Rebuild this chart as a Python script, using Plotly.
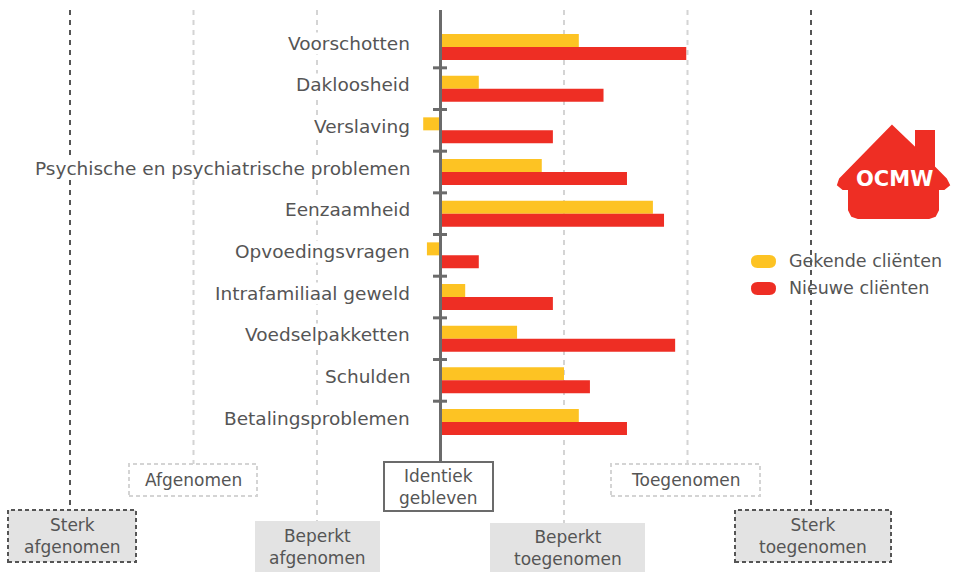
import plotly.graph_objects as go

# --- data -------------------------------------------------------------
categories = [
    "Voorschotten",
    "Dakloosheid",
    "Verslaving",
    "Psychische en psychiatrische problemen",
    "Eenzaamheid",
    "Opvoedingsvragen",
    "Intrafamiliaal geweld",
    "Voedselpakketten",
    "Schulden",
    "Betalingsproblemen",
]
gekende = [1.12, 0.31, -0.14, 0.82, 1.72, -0.11, 0.20, 0.62, 1.00, 1.12]
nieuwe = [1.99, 1.32, 0.91, 1.51, 1.81, 0.31, 0.91, 1.90, 1.21, 1.51]

series_names = ["Gekende cliënten", "Nieuwe cliënten"]
scale_levels = [-3, -2, -1, 0, 1, 2, 3]
scale_labels = [
    "Sterk<br>afgenomen",
    "Afgenomen",
    "Beperkt<br>afgenomen",
    "Identiek<br>gebleven",
    "Beperkt<br>toegenomen",
    "Toegenomen",
    "Sterk<br>toegenomen",
]

# --- styling ------------------------------------------------------------
W, H = 957, 572
YELLOW = "#FDC323"
RED = "#EE2E24"
TXT = "#555555"
AXIS = "#6b6b6b"
DARK_DASH = "#555555"
LIGHT_DASH = "#d4d4d4"
BOX_GRAY = "#e3e3e3"
FONT = "DejaVu Sans"

ZERO_PX = 440.5      # pixel column of the zero line
UNIT_PX = 123.5      # pixels per scale step
ROW0_PX = 47.0       # pixel row of the first category centre
ROW_PX = 41.67       # pixels between category centres


def px_x(px):
    return (px - ZERO_PX) / UNIT_PX


def py(px):
    return 1 - px / H


fig = go.Figure()
fig.add_trace(go.Bar(y=categories, x=gekende, orientation="h", name=series_names[0],
                     marker=dict(color=YELLOW, line=dict(width=0)), showlegend=False))
fig.add_trace(go.Bar(y=categories, x=nieuwe, orientation="h", name=series_names[1],
                     marker=dict(color=RED, line=dict(width=0)), showlegend=False))

shapes = []
annotations = []

# vertical reference lines per level, each ending on top of its label box
level_style = {
    -3: dict(col=DARK_DASH, bottom=510, box=(8, 136, 510, 562), fill=BOX_GRAY, bcol=DARK_DASH, bdash="4px,3px"),
    -2: dict(col=LIGHT_DASH, bottom=464, box=(129, 257, 464, 496), fill="white", bcol=LIGHT_DASH, bdash="4px,3px"),
    -1: dict(col=LIGHT_DASH, bottom=521, box=(255, 380, 521, 572), fill=BOX_GRAY, bcol=None, bdash=None),
    0: dict(col=AXIS, bottom=462, box=(384, 493, 462, 511), fill="white", bcol=AXIS, bdash="solid"),
    1: dict(col=LIGHT_DASH, bottom=523, box=(490, 645, 523, 572), fill=BOX_GRAY, bcol=None, bdash=None),
    2: dict(col=LIGHT_DASH, bottom=464, box=(611, 760, 464, 496), fill="white", bcol=LIGHT_DASH, bdash="4px,3px"),
    3: dict(col=DARK_DASH, bottom=510, box=(735, 891, 510, 562), fill=BOX_GRAY, bcol=DARK_DASH, bdash="4px,3px"),
}

for lvl, lab in zip(scale_levels, scale_labels):
    st = level_style[lvl]
    if lvl == 0:
        shapes.append(dict(type="line", xref="x", yref="paper", x0=0, x1=0,
                           y0=py(10), y1=py(st["bottom"]),
                           line=dict(color=AXIS, width=3), layer="above"))
    else:
        shapes.append(dict(type="line", xref="x", yref="paper", x0=lvl, x1=lvl,
                           y0=py(10), y1=py(st["bottom"]),
                           line=dict(color=st["col"], width=2, dash="5px,5px"), layer="below"))
    bx0, bx1, by0, by1 = st["box"]
    line = dict(width=0) if st["bcol"] is None else dict(color=st["bcol"], width=2, dash=st["bdash"])
    shapes.append(dict(type="rect", xref="paper", yref="paper",
                       x0=bx0 / W, x1=bx1 / W, y0=py(by1), y1=py(by0),
                       fillcolor=st["fill"], line=line, layer="above"))
    annotations.append(dict(xref="paper", yref="paper", x=(bx0 + bx1) / 2 / W,
                            y=py((by0 + by1) / 2), text=lab, showarrow=False,
                            xanchor="center", yanchor="middle",
                            font=dict(family=FONT, size=17, color=TXT)))

# small ticks on the zero line between categories
for i in range(len(categories) - 1):
    shapes.append(dict(type="line", xref="x", yref="y", x0=px_x(433), x1=px_x(447),
                       y0=i + 0.5, y1=i + 0.5, line=dict(color=AXIS, width=3), layer="above"))

# category labels, right aligned left of the zero line
for c in categories:
    annotations.append(dict(xref="x", yref="y", x=px_x(411), y=c, text=c,
                            showarrow=False, xanchor="right", yanchor="middle", yshift=4,
                            bgcolor="white", borderpad=0,
                            font=dict(family=FONT, size=18.5, color=TXT)))

# legend with pill-shaped keys
for name, col, cy in [(series_names[0], YELLOW, 261.5), (series_names[1], RED, 288.5)]:
    x0, x1, h = 751, 776, 13
    r = h / 2
    path = (f"M {(x0 + r) / W},{py(cy - r)} L {(x1 - r) / W},{py(cy - r)} "
            f"Q {x1 / W},{py(cy - r)} {x1 / W},{py(cy)} "
            f"Q {x1 / W},{py(cy + r)} {(x1 - r) / W},{py(cy + r)} "
            f"L {(x0 + r) / W},{py(cy + r)} "
            f"Q {x0 / W},{py(cy + r)} {x0 / W},{py(cy)} "
            f"Q {x0 / W},{py(cy - r)} {(x0 + r) / W},{py(cy - r)} Z")
    shapes.append(dict(type="path", xref="paper", yref="paper", path=path,
                       fillcolor=col, line=dict(width=0)))
    annotations.append(dict(xref="paper", yref="paper", x=787 / W, y=py(cy - 1), text=name,
                            showarrow=False, xanchor="left", yanchor="middle",
                            font=dict(family=FONT, size=17.5, color=TXT)))

# OCMW house logo
house = [(892, 126), (916, 149), (916, 131), (934, 131), (934, 167), (946, 179),
         (949, 185), (944, 189), (938, 189), (938, 210), (935, 216), (929, 218),
         (858, 218), (852, 216), (849, 210), (849, 189), (843, 189), (838, 185),
         (840, 179)]
hp = "M " + " L ".join(f"{x / W},{py(y)}" for x, y in house) + " Z"
shapes.append(dict(type="path", xref="paper", yref="paper", path=hp,
                   fillcolor=RED, line=dict(color=RED, width=2)))
annotations.append(dict(xref="paper", yref="paper", x=894 / W, y=py(179), text="<b>OCMW</b>",
                        showarrow=False, xanchor="center", yanchor="middle",
                        font=dict(family=FONT, size=21, color="white")))

fig.update_layout(
    width=W, height=H,
    margin=dict(l=0, r=0, t=0, b=0),
    paper_bgcolor="white", plot_bgcolor="white",
    barmode="group", bargap=1 - 26 / ROW_PX, bargroupgap=0,
    xaxis=dict(range=[px_x(0), px_x(W)], visible=False, fixedrange=True),
    yaxis=dict(range=[(H - ROW0_PX) / ROW_PX, -ROW0_PX / ROW_PX], visible=False,
               categoryorder="array", categoryarray=categories, fixedrange=True),
    shapes=shapes, annotations=annotations,
    showlegend=False,
)

fig.write_html("out.html")
